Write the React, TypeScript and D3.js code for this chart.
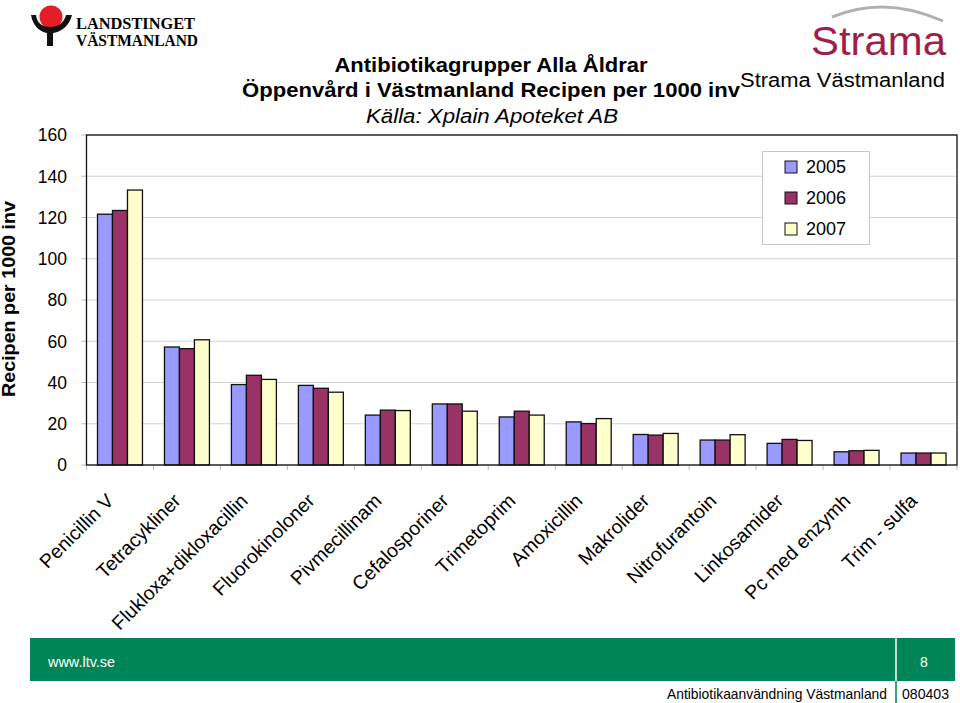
import React from "react";
import * as d3 from "d3";

const categories = [
  "Penicillin V",
  "Tetracykliner",
  "Flukloxa+dikloxacillin",
  "Fluorokinoloner",
  "Pivmecillinam",
  "Cefalosporiner",
  "Trimetoprim",
  "Amoxicillin",
  "Makrolider",
  "Nitrofurantoin",
  "Linkosamider",
  "Pc med enzymh",
  "Trim - sulfa",
];
const years = ["2005", "2006", "2007"];
const values2005 = [121.6, 57.2, 39.0, 38.6, 24.2, 29.6, 23.3, 20.9, 14.8, 12.1, 10.5, 6.4, 5.8];
const values2006 = [123.4, 56.4, 43.5, 37.2, 26.6, 29.6, 26.1, 20.1, 14.5, 12.1, 12.4, 6.9, 5.8];
const values2007 = [133.3, 60.7, 41.5, 35.3, 26.4, 26.1, 24.2, 22.5, 15.3, 14.7, 11.9, 7.1, 5.8];
const yTicks = [0, 20, 40, 60, 80, 100, 120, 140, 160];
const colors = ["#9999FF", "#993366", "#FFFFCC"];

const FONT = "'Liberation Sans', Arial, Helvetica, sans-serif";

export default function App() {
  const series = [values2005, values2006, values2007];
  const left = 86.5, right = 957, top = 135, bottom = 465;
  const x0 = d3
    .scaleBand<string>()
    .domain(categories)
    .range([left, right])
    .paddingInner(22 / 67)
    .paddingOuter(11 / 67);
  const x1 = d3.scaleBand<string>().domain(years).range([0, x0.bandwidth()]);
  const y = d3.scaleLinear().domain([0, 160]).range([bottom, top]);
  const step = x0.step();

  return (
    <svg
      width={960}
      height={703}
      style={{ position: "absolute", left: 0, top: 0, background: "#fff" }}
      fontFamily={FONT}
    >
      {/* Landstinget logo */}
      <g>
        <circle cx={51} cy={17} r={11.5} fill="#e31e24" />
        <path
          d="M31,15 C33,27 41,32 47,33 L47,46 L53,46 L53,33 C60,32 69,27 72,15 L66,15 C64,23 58,27 50,27 C42,27 37,23 36,15 Z"
          fill="#111"
        />
        <text x={76} y={29} fontFamily="'Liberation Serif', 'DejaVu Serif', serif" fontSize={16} fontWeight="bold" textLength={119} lengthAdjust="spacingAndGlyphs">LANDSTINGET</text>
        <text x={76} y={46} fontFamily="'Liberation Serif', 'DejaVu Serif', serif" fontSize={16} fontWeight="bold" textLength={122} lengthAdjust="spacingAndGlyphs">VÄSTMANLAND</text>
      </g>

      {/* Strama logo */}
      <g>
        <path d="M832,17 Q885,-5 943,21" fill="none" stroke="#b0b0b0" strokeWidth={3} />
        <text x={811} y={55} fontSize={40} fill="#9e1f47" textLength={135} lengthAdjust="spacingAndGlyphs">Strama</text>
      </g>

      {/* Titles */}
      <text x={491} y={72} textAnchor="middle" fontSize={20} fontWeight="bold" textLength={313} lengthAdjust="spacingAndGlyphs">Antibiotikagrupper Alla Åldrar</text>
      <text x={491} y={97} textAnchor="middle" fontSize={20} fontWeight="bold" textLength={498} lengthAdjust="spacingAndGlyphs">Öppenvård i Västmanland Recipen per 1000 inv</text>
      <text x={492} y={123} textAnchor="middle" fontSize={20} fontStyle="italic" textLength={252} lengthAdjust="spacingAndGlyphs">Källa: Xplain Apoteket AB</text>
      <text x={740} y={87} fontSize={20} textLength={205} lengthAdjust="spacingAndGlyphs">Strama Västmanland</text>

      {/* Gridlines */}
      {yTicks.map((t) => (
        <line key={"g" + t} x1={left} x2={right} y1={y(t)} y2={y(t)} stroke="#d4d4d4" strokeWidth={1.2} />
      ))}
      {/* Y ticks */}
      {yTicks.map((t) => (
        <g key={"t" + t}>
          <line x1={left - 5} x2={left} y1={y(t)} y2={y(t)} stroke="#bbb" />
          <text x={67} y={y(t)} dy="0.36em" textAnchor="end" fontSize={17.5}>{t}</text>
        </g>
      ))}
      {/* X ticks */}
      {d3.range(categories.length + 1).map((i) => (
        <line key={"xt" + i} x1={left + i * step} x2={left + i * step} y1={bottom} y2={bottom + 5} stroke="#bbb" />
      ))}

      {/* Bars */}
      {categories.map((c, i) => (
        <g key={c} transform={`translate(${x0(c)},0)`}>
          {years.map((yr, j) => (
            <rect
              key={yr}
              x={x1(yr)}
              y={y(series[j][i])}
              width={x1.bandwidth()}
              height={bottom - y(series[j][i])}
              fill={colors[j]}
              stroke="#111"
              strokeWidth={1.3}
            />
          ))}
        </g>
      ))}

      {/* Plot frame */}
      <rect x={left} y={top} width={right - left} height={bottom - top} fill="none" stroke="#111" strokeWidth={1.3} />

      {/* Category labels */}
      {categories.map((c) => {
        const cx = (x0(c) as number) + x0.bandwidth() / 2;
        return (
          <text key={"l" + c} transform={`translate(${cx - 5},502) rotate(-45)`} textAnchor="end" fontSize={19.5}>
            {c}
          </text>
        );
      })}

      {/* Y axis label */}
      <text transform="translate(15,299) rotate(-90)" textAnchor="middle" fontSize={18} fontWeight="bold" textLength={196} lengthAdjust="spacingAndGlyphs">Recipen per 1000 inv</text>

      {/* Legend */}
      <g>
        <rect x={762.5} y={151.5} width={107} height={93} fill="#fff" stroke="#c8c8c8" />
        {years.map((yr, j) => (
          <g key={"lg" + yr}>
            <rect x={785} y={161 + j * 31} width={12} height={12} fill={colors[j]} stroke="#111" />
            <text x={806} y={167 + j * 31} dy="0.36em" fontSize={18}>{yr}</text>
          </g>
        ))}
      </g>

      {/* Footer */}
      <rect x={30} y={638} width={925} height={43} fill="#008556" />
      <line x1={896} x2={896} y1={638} y2={681} stroke="#fff" strokeWidth={1.5} />
      <line x1={896} x2={896} y1={681} y2={703} stroke="#008556" strokeWidth={1.5} />
      <text x={48} y={667} fill="#fff" fontSize={14} textLength={67} lengthAdjust="spacingAndGlyphs">www.ltv.se</text>
      <text x={920} y={667} fill="#fff" fontSize={14}>8</text>
      <text x={887} y={699} textAnchor="end" fontSize={15} textLength={220} lengthAdjust="spacingAndGlyphs">Antibiotikaanvändning Västmanland</text>
      <text x={902} y={699} fontSize={15} textLength={47} lengthAdjust="spacingAndGlyphs">080403</text>
    </svg>
  );
}
